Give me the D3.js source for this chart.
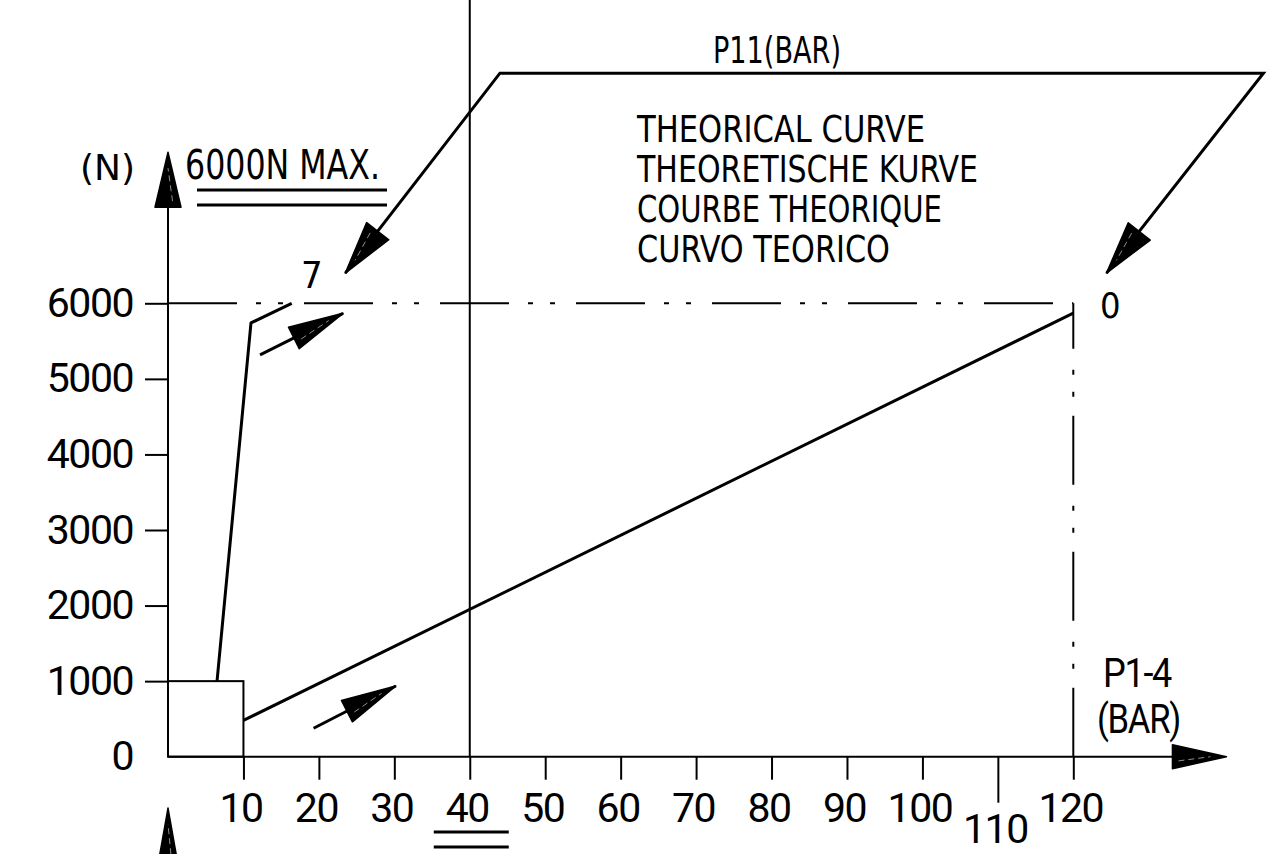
<!DOCTYPE html>
<html lang="en">
<head>
<meta charset="UTF-8" />
<title>Theorical curve P1-4 / force</title>
<script src="https://d3js.org/d3.v7.min.js"></script>
<style>
body { margin: 0; background: #fff; }
svg { display: block; background: #fff; }
.num { font-family: Roboto, "Noto Sans", sans-serif; font-size: 41px; letter-spacing: -1.5px; fill: #000; }
.cad { font-family: "DejaVu Sans Condensed", "DejaVu Sans", sans-serif; fill: #000; }
</style>
</head>
<body>
<svg width="1273" height="854"></svg>
<script>
// tick values
const pressureTicks = [10, 20, 30, 40, 50, 60, 70, 80, 90, 100, 110, 120];
const forceTicks = [0, 1000, 2000, 3000, 4000, 5000, 6000];

// curve for P11 = 7 bar
const curve7 = [
  { p: 6.5, f: 1000 },
  { p: 11, f: 5740 },
  { p: 16.4, f: 6000 }
];
// curve for P11 = 0 bar
const curve0 = [
  { p: 10, f: 480 },
  { p: 120, f: 5870 }
];
const maxForce = 6000;
const maxPressure = 120;
const markPressure = 40;
const boxCorner = { p: 10, f: 1000 };

const legendLines = ["THEORICAL CURVE", "THEORETISCHE KURVE", "COURBE THEORIQUE", "CURVO TEORICO"];

const svg = d3.select("svg");

const x = d3.scaleLinear().domain([0, 120]).range([168, 1073.3]);
const y = d3.scaleLinear().domain([0, 6000]).range([756.7, 303.3]);

const P = d => [x(d.p), y(d.f)];

// arrow head helper: filled triangle at tip, pointing away from "from"
function arrowHead(g, from, tip, len, hw, hatch) {
  const dx = tip[0] - from[0], dy = tip[1] - from[1];
  const l = Math.hypot(dx, dy);
  const ux = dx / l, uy = dy / l;
  const bx = tip[0] - ux * len, by = tip[1] - uy * len;
  const nx = -uy, ny = ux;
  g.append("path")
    .attr("d", `M${tip[0]},${tip[1]}L${bx + nx * hw},${by + ny * hw}L${bx - nx * hw},${by - ny * hw}Z`)
    .attr("fill", "#000")
    .attr("stroke", "#000")
    .attr("stroke-width", 1.5)
    .attr("stroke-linejoin", "round");
  if (hatch) {
    g.append("line")
      .attr("x1", bx + nx * hw * 0.35 + ux * 6).attr("y1", by + ny * hw * 0.35 + uy * 6)
      .attr("x2", tip[0] - ux * 16).attr("y2", tip[1] - uy * 16)
      .attr("stroke", "#fff").attr("stroke-width", 0.7).attr("opacity", 0.8)
      .attr("stroke-dasharray", "6,4");
  }
}

const dashDot = "69,19,5,17,5,21";

// y axis
const gy = svg.append("g")
  .attr("transform", `translate(${x(0)},0)`)
  .call(d3.axisLeft(y).tickValues(forceTicks).tickSize(23).tickPadding(12).tickFormat(d3.format("d")));
gy.attr("font-family", null).attr("font-size", null);
gy.select(".domain").remove();
gy.selectAll(".tick").filter(d => d === 0).select("line").remove();
gy.selectAll(".tick line").attr("stroke", "#000").attr("stroke-width", 2);
gy.selectAll(".tick text").attr("class", "num");

// x axis
const gx = svg.append("g")
  .attr("transform", `translate(0,${y(0)})`)
  .call(d3.axisBottom(x).tickValues(pressureTicks).tickSize(23).tickPadding(13).tickFormat(d3.format("d")));
gx.attr("font-family", null).attr("font-size", null);
gx.select(".domain").remove();
gx.selectAll(".tick line").attr("stroke", "#000").attr("stroke-width", 2);
gx.selectAll(".tick text").attr("class", "num").attr("dx", -3);
const t110 = gx.selectAll(".tick").filter(d => d === 110);
t110.select("line").attr("y2", 46);
t110.select("text").attr("y", 57);

// axis lines with arrows
const axes = svg.append("g");
axes.append("line")
  .attr("x1", x(0)).attr("y1", y(0)).attr("x2", x(0)).attr("y2", y(7274))
  .attr("stroke", "#000").attr("stroke-width", 2);
arrowHead(axes, [x(0), y(0)], [x(0), y(8000)], 55, 13, true);
axes.append("line")
  .attr("x1", x(0)).attr("y1", y(0)).attr("x2", x(133.1)).attr("y2", y(0))
  .attr("stroke", "#000").attr("stroke-width", 2);
arrowHead(axes, [x(0), y(0)], [x(140.3), y(0)], 54, 12, true);
arrowHead(axes, [x(0), y(-2500)], [x(0), y(-680)], 62, 11, true);

// vertical line at 40 bar
svg.append("line")
  .attr("x1", x(markPressure)).attr("x2", x(markPressure))
  .attr("y1", y(0)).attr("y2", y(y.invert(0)))
  .attr("stroke", "#000").attr("stroke-width", 2);

// small box 0..10 bar / 0..1000 N
svg.append("rect")
  .attr("x", x(0)).attr("y", y(boxCorner.f))
  .attr("width", x(boxCorner.p) - x(0)).attr("height", y(0) - y(boxCorner.f))
  .attr("fill", "none").attr("stroke", "#000").attr("stroke-width", 2);

// dash-dot limits
svg.append("line")
  .attr("x1", x(0)).attr("y1", y(maxForce)).attr("x2", x(maxPressure)).attr("y2", y(maxForce))
  .attr("stroke", "#000").attr("stroke-width", 2).attr("stroke-dasharray", dashDot);
svg.append("line")
  .attr("x1", x(maxPressure)).attr("y1", y(0)).attr("x2", x(maxPressure)).attr("y2", y(maxForce))
  .attr("stroke", "#000").attr("stroke-width", 2).attr("stroke-dasharray", dashDot);

// curves
const line = d3.line().x(d => x(d.p)).y(d => y(d.f));
[curve7, curve0].forEach(c => {
  svg.append("path").datum(c).attr("d", line)
    .attr("fill", "none").attr("stroke", "#000").attr("stroke-width", 3)
    .attr("stroke-linejoin", "round");
});

// direction arrows along curves
const ann = svg.append("g");
const dirArrows = [
  [{ p: 12.2, f: 5317 }, { p: 23.2, f: 5867 }],
  [{ p: 19.3, f: 376 }, { p: 30.2, f: 936 }]
];
dirArrows.forEach(a => {
  ann.append("line")
    .attr("x1", x(a[0].p)).attr("y1", y(a[0].f)).attr("x2", x(a[1].p)).attr("y2", y(a[1].f))
    .attr("stroke", "#000").attr("stroke-width", 3);
  arrowHead(ann, P(a[0]), P(a[1]), 55, 12, true);
});

// P11 bracket
const p11Bracket = [
  { p: 23.5, f: 6400 },
  { p: 44, f: 9045 },
  { p: 145.2, f: 9045 },
  { p: 124.4, f: 6400 }
];
ann.append("path").datum(p11Bracket).attr("d", line)
  .attr("fill", "none").attr("stroke", "#000").attr("stroke-width", 3);
arrowHead(ann, P(p11Bracket[1]), P(p11Bracket[0]), 53, 14, true);
arrowHead(ann, P(p11Bracket[2]), P(p11Bracket[3]), 53, 14, true);

// texts
const txt = svg.append("g");
txt.append("text").attr("class", "cad").attr("x", 713).attr("y", 63)
  .attr("font-size", 38).attr("textLength", 128).attr("lengthAdjust", "spacingAndGlyphs")
  .text("P11(BAR)");
const legW = [288, 341, 305, 253];
legendLines.forEach((s, i) => {
  txt.append("text").attr("class", "cad").attr("x", 637).attr("y", 142 + i * 39.9)
    .attr("font-size", 37).attr("textLength", legW[i]).attr("lengthAdjust", "spacingAndGlyphs")
    .text(s);
});
txt.append("text").attr("class", "cad").attr("x", 80).attr("y", 180)
  .attr("font-size", 36).attr("textLength", 55).attr("lengthAdjust", "spacingAndGlyphs")
  .text("(N)");
txt.append("text").attr("class", "cad").attr("x", 185).attr("y", 179)
  .attr("font-size", 41).attr("textLength", 195).attr("lengthAdjust", "spacingAndGlyphs")
  .text("6000N MAX.");
txt.append("text").attr("class", "cad").attr("x", 301).attr("y", 288)
  .attr("font-size", 38).text("7");
txt.append("text").attr("class", "cad").attr("x", 1100).attr("y", 318)
  .attr("font-size", 36).text("0");
txt.append("text").attr("class", "num").attr("x", 1103).attr("y", 687)
  .attr("font-size", 33).attr("textLength", 68).attr("lengthAdjust", "spacingAndGlyphs")
  .text("P1-4");
txt.append("text").attr("class", "num").attr("x", 1097).attr("y", 733)
  .attr("font-size", 33).attr("textLength", 83).attr("lengthAdjust", "spacingAndGlyphs")
  .text("(BAR)");

// double underlines
const ul = svg.append("g").attr("stroke", "#000").attr("stroke-width", 3);
[190, 205].forEach(yy => {
  ul.append("line").attr("x1", 197).attr("x2", 387).attr("y1", yy).attr("y2", yy);
});
[832, 847].forEach(yy => {
  ul.append("line").attr("x1", x(markPressure) - 36).attr("x2", x(markPressure) + 39).attr("y1", yy).attr("y2", yy);
});
</script>
</body>
</html>
